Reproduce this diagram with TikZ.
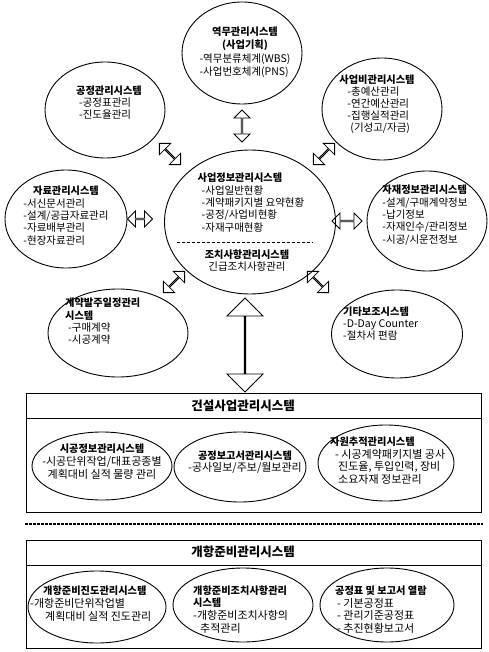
\documentclass[tikz,border=0pt]{standalone}
\usepackage{fontspec}
\setmainfont{Noto Sans CJK KR}
\usetikzlibrary{shapes.geometric,shapes.arrows}
\newcommand{\mybf}[1]{{\fontsize{10.2}{12}\selectfont\bfseries #1}}
\newcommand{\mytl}[1]{\multicolumn{1}{@{}c@{}}{\mybf{#1}}}
\begin{document}
\begin{tikzpicture}[x=1pt,y=-1pt,
  ell/.style={draw, ellipse, line width=0.9pt, inner sep=0pt},
  txt/.style={inner sep=0pt, font=\fontsize{10.5}{12.3}\selectfont},
  btxt/.style={inner sep=0pt, font=\fontsize{11}{12.4}\selectfont},
  sarrow/.style={draw, double arrow, line width=0.8pt, inner sep=0pt,
    double arrow head extend=4pt, minimum width=16pt, minimum height=#1},
  barrow/.style={draw, double arrow, line width=0.9pt, inner sep=0pt,
    double arrow head extend=13pt, minimum width=36pt, minimum height=#1},
  box/.style={draw, line width=1.2pt, inner sep=0pt, anchor=north west},
  head/.style={inner sep=0pt, font=\fontsize{12.5}{14}\selectfont\bfseries}
]
\useasboundingbox (0,0) rectangle (488,652);

% ---------- ellipses ----------
\node[ell, minimum width=120pt, minimum height=102pt] (e1) at (242,53) {};
\node[ell, minimum width=120pt, minimum height=96pt] (e2) at (105,110) {};
\node[ell, minimum width=120pt, minimum height=102pt] (e3) at (382,109) {};
\node[ell, minimum width=122pt, minimum height=98pt] (e4) at (66,219) {};
\node[ell, minimum width=171pt, minimum height=144pt] (e0) at (250,222) {};
\node[ell, minimum width=120pt, minimum height=100pt] (e5) at (427,221) {};
\node[ell, minimum width=140pt, minimum height=88pt] (e6) at (118,333) {};
\node[ell, minimum width=131pt, minimum height=88pt] (e7) at (397,334) {};

% ---------- texts ----------
\node[txt, font=\fontsize{10.5}{13.5}\selectfont] (e1t) at (245,53) {\begin{tabular}{@{}l@{}}\mytl{역무관리시스템}\\ \mytl{(사업기획)}\\ -역무분류체계(WBS)\\ -사업번호체계(PNS)\end{tabular}};
\node[txt] (e2t) at (109,104) {\begin{tabular}{@{}l@{}}\mybf{공정관리시스템}\\ \hspace{3pt}-공정표관리\\ \hspace{3pt}-진도율관리\end{tabular}};
\node[txt, font=\fontsize{10.5}{11.6}\selectfont] (e3t) at (377,105) {\begin{tabular}{@{}l@{}}\mybf{사업비관리시스템}\\ \hspace{8pt}-총예산관리\\ \hspace{8pt}-연간예산관리\\ \hspace{8pt}-집행실적관리\\ \hspace{11pt}(기성고/자금)\end{tabular}};
\node[txt] (e4t) at (66,217) {\begin{tabular}{@{}l@{}}\mytl{자료관리시스템}\\ -서신문서관리\\ -설계/공급자료관리\\ -자료배부관리\\ -현장자료관리\end{tabular}};
\node[txt] (e5t) at (425,216) {\begin{tabular}{@{}l@{}}\mybf{자재정보관리시스템}\\ -설계/구매계약정보\\ -납기정보\\ -자재인수/관리정보\\ -시공/시운전정보\end{tabular}};
\node[txt] (e0a) at (251,204) {\begin{tabular}{@{}l@{}}\mybf{사업정보관리시스템}\\ \hspace{4pt}-사업일반현황\\ \hspace{4pt}-계약패키지별 요약현황\\ \hspace{4pt}-공정/사업비현황\\ \hspace{4pt}-자재구매현황\end{tabular}};
\node[txt] (e0b) at (247,262) {\begin{tabular}{@{}c@{}}\mybf{조치사항관리시스템}\\ 긴급조치사항관리\end{tabular}};
\node[txt, anchor=west] (e6t) at (65,323) {\begin{tabular}{@{}l@{}}\mybf{계약발주일정관리}\\ \mybf{시스템}\\ \hspace{3pt}-구매계약\\ \hspace{3pt}-시공계약\end{tabular}};
\node[txt, anchor=west] (e7t) at (343,325) {\begin{tabular}{@{}l@{}}\mybf{기타보조시스템}\\ -D-Day Counter\\ -절차서 편람\end{tabular}};

\coordinate (dl1) at (177,242);
\coordinate (dl2) at (313,242);
\draw[line width=0.6pt, dash pattern=on 3pt off 2pt] (dl1) -- (dl2);

% ---------- small double arrows ----------
\node[sarrow=32pt, rotate=90] (a1) at (242,126) {};
\node[sarrow=30pt, rotate=-45] (a2) at (170,154) {};
\node[sarrow=30pt, rotate=45] (a3) at (324,154) {};
\node[sarrow=25pt] (a4) at (140,219) {};
\node[sarrow=30pt] (a5) at (347,221) {};
\node[sarrow=30pt, rotate=45] (a6) at (174,282) {};
\node[sarrow=30pt, rotate=-45] (a7) at (318,282) {};

% ---------- big arrow ----------
\node[barrow=94pt, rotate=90] (a8) at (245,345) {};

% ---------- box 1 ----------
\node[box, minimum width=455pt, minimum height=119pt] (box1) at (26,393) {};
\draw[line width=1pt] ([yshift=-25pt]box1.north west) -- ([yshift=-25pt]box1.north east);
\node[head] (h1) at (243,406) {건설사업관리시스템};
\node[ell, minimum width=140pt, minimum height=68pt] (b1) at (102,466) {};
\node[ell, minimum width=132pt, minimum height=70pt] (b2) at (240,467) {};
\node[ell, minimum width=136pt, minimum height=76pt] (b3) at (386,463) {};
\node[btxt] (b1t) at (102,463) {\begin{tabular}{@{}c@{}}\mybf{시공정보관리시스템}\\ -시공단위작업/대표공종별\\ 계획대비 실적 물량 관리\end{tabular}};
\node[btxt] (b2t) at (245,463) {\begin{tabular}{@{}c@{}}\mybf{공정보고서관리시스템}\\ -공사일보/주보/월보관리\end{tabular}};
\node[btxt, anchor=west] (b3t) at (330,462) {\begin{tabular}{@{}l@{}}\mybf{자원추적관리시스템}\\ \hspace{5pt}- 시공계약패키지별 공사\\ \hspace{8pt}진도율, 투입인력, 장비\\ \hspace{8pt}소요자재 정보관리\end{tabular}};

% ---------- separator ----------
\coordinate (s1) at (25,524);
\coordinate (s2) at (483,524);
\draw[line width=1.2pt, dash pattern=on 2.5pt off 1.5pt] (s1) -- (s2);

% ---------- box 2 ----------
\node[box, minimum width=455pt, minimum height=108pt] (box2) at (26,540) {};
\draw[line width=1pt] ([yshift=-25pt]box2.north west) -- ([yshift=-25pt]box2.north east);
\node[head] (h2) at (243,552) {개항준비관리시스템};
\node[ell, minimum width=138pt, minimum height=72pt] (c1) at (97,607) {};
\node[ell, minimum width=140pt, minimum height=74pt] (c2) at (243,605) {};
\node[ell, minimum width=134pt, minimum height=74pt] (c3) at (387,605) {};
\node[btxt, anchor=west] (c1t) at (30,605) {\begin{tabular}{@{}l@{}}\hspace{13pt}\mybf{개항준비진도관리시스템}\\ -개항준비단위작업별\\ \hspace{15pt}계획대비 실적 진도관리\end{tabular}};
\node[btxt, anchor=west] (c2t) at (193,611) {\begin{tabular}{@{}l@{}}\mybf{개항준비조치사항관리}\\ \mybf{시스템}\\ -개항준비조치사항의\\ \hspace{7pt}추적관리\end{tabular}};
\node[btxt, anchor=west] (c3t) at (335,611) {\begin{tabular}{@{}l@{}}\mybf{공정표 및 보고서 열람}\\ \hspace{2pt}- 기본공정표\\ \hspace{2pt}- 관리기준공정표\\ \hspace{2pt}- 추진현황보고서\end{tabular}};
\end{tikzpicture}
\end{document}
